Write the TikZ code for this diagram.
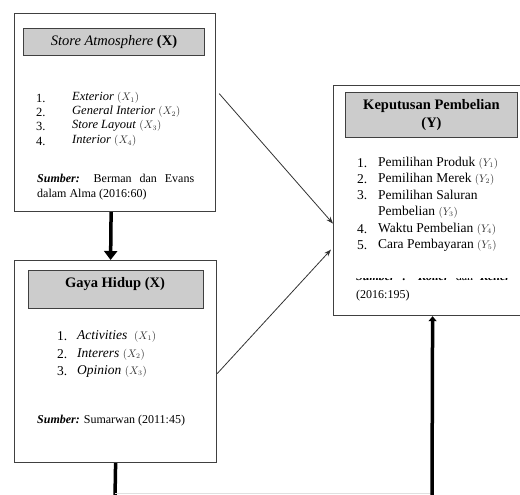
\documentclass[tikz,border=0pt]{standalone}
\usepackage{fontspec}
\setmainfont{Liberation Serif}
\usetikzlibrary{arrows.meta}

\newcommand{\var}[1]{{\color{black!80}\fontsize{10.5}{11}\selectfont$(#1)$}}

\begin{document}
\begin{tikzpicture}[x=1pt,y=-1pt,
    kotak/.style={draw=black!75,line width=1.2pt,anchor=north west,inner sep=0pt},
    judul/.style={draw=black!75,line width=1pt,fill=black!20,anchor=north west,inner sep=0pt,
      align=center,font=\fontsize{14.5}{18}\selectfont},
    isi/.style={anchor=west,inner sep=0pt,font=\fontsize{12.5}{14}\selectfont},
    isibesar/.style={anchor=west,inner sep=0pt,font=\fontsize{13.5}{15}\selectfont},
    tebal/.style={line width=3.5pt},
    panah/.style={-{Stealth[length=7pt,width=5pt]},line width=0.8pt,black!80}]
\useasboundingbox (0,0) rectangle (520,495);

% kotak store atmosphere
\node[kotak,minimum width=201pt,minimum height=198pt] (atmo) at (14,13) {};
\node[judul,minimum width=181pt,minimum height=27pt] (atmoJ) at (23,28) {\textit{Store Atmosphere} \textbf{(X)}};
\node[isi] (a1n) at (36,98) {1.};  \node[isi] (a1) at (72,98) {\textit{Exterior} \var{X_1}};
\node[isi] (a2n) at (36,112) {2.}; \node[isi] (a2) at (72,112) {\textit{General Interior} \var{X_2}};
\node[isi] (a3n) at (36,126) {3.}; \node[isi] (a3) at (72,126) {\textit{Store Layout} \var{X_3}};
\node[isi] (a4n) at (36,141) {4.}; \node[isi] (a4) at (72,141) {\textit{Interior} \var{X_4}};
\node[isi,anchor=north west,text width=157pt,align=justify,font=\fontsize{12}{15}\selectfont] (aSum) at (37,174)
  {\textbf{\textit{Sumber:}} Berman dan Evans dalam Alma (2016:60)};

% kotak gaya hidup
\node[kotak,minimum width=202pt,minimum height=202pt] (gaya) at (14,260) {};
\node[judul,minimum width=175pt,minimum height=38pt] (gayaJ) at (28,270) {};
\node[judul,anchor=center,draw=none,fill=none] (gayaT) at (115,284) {\textbf{Gaya Hidup (X)}};
\node[isibesar] (g1n) at (57,336) {1.}; \node[isibesar] (g1) at (77,336) {\textit{Activities}\ \ \var{X_1}};
\node[isibesar] (g2n) at (57,354) {2.}; \node[isibesar] (g2) at (77,354) {\textit{Interers} \var{X_2}};
\node[isibesar] (g3n) at (57,371) {3.}; \node[isibesar] (g3) at (77,371) {\textit{Opinion} \var{X_3}};
\node[isi,font=\fontsize{12}{14}\selectfont] (gSum) at (37,421) {\textbf{\textit{Sumber:}} Sumarwan (2011:45)};

% kotak keputusan pembelian
\node[kotak,minimum width=190pt,minimum height=230pt] (keput) at (333,85) {};
\node[judul,minimum width=172pt,minimum height=45pt] (keputJ) at (345,92) {\textbf{Keputusan Pembelian}\\\textbf{(Y)}};
\node[isibesar] (k1n) at (357,163) {1.}; \node[isibesar] (k1) at (378,163) {Pemilihan Produk \var{Y_1}};
\node[isibesar] (k2n) at (357,179) {2.}; \node[isibesar] (k2) at (378,179) {Pemilihan Merek \var{Y_2}};
\node[isibesar] (k3n) at (357,195) {3.}; \node[isibesar] (k3) at (378,195) {Pemilihan Saluran};
\node[isibesar] (k3b) at (378,212) {Pembelian \var{Y_3}};
\node[isibesar] (k4n) at (357,229) {4.}; \node[isibesar] (k4) at (378,229) {Waktu Pembelian \var{Y_4}};
\node[isibesar] (k5n) at (357,245) {5.}; \node[isibesar] (k5) at (378,245) {Cara Pembayaran \var{Y_5}};
\begin{scope}
  \clip (340,278) rectangle (518,292);
  \node[isi,font=\fontsize{12}{14}\selectfont] (kSum) at (356,276)
    {\makebox[154pt][s]{\textbf{\textit{Sumber}} \textbf{:} \textbf{\textit{Koller}} dan \textbf{\textit{Keller}}}};
\end{scope}
\node[isi,font=\fontsize{12}{14}\selectfont] (kTh) at (356,296) {(2016:195)};

% garis penghubung
\draw[tebal,-{Triangle[length=9pt,width=13pt]}] ([xshift=-4pt]atmo.south) -- ([xshift=-5pt]gaya.north);
\draw[panah] ([xshift=3pt,yshift=19pt]atmo.east) -- ([yshift=-23pt]keput.west);
\draw[panah] ([yshift=-12pt]gaya.east) -- ([xshift=-2pt,yshift=-49pt]keput.west);
\coordinate (bawahKiri) at (115,498);
\coordinate (bawahKanan) at (432,498);
\coordinate (garisKiri) at (115,493);
\coordinate (garisKanan) at (432,493);
\draw[tebal] (gaya.south) -- (bawahKiri);
\draw[black!12,line width=1pt] (garisKiri) -- (garisKanan);
\draw[tebal,-{Triangle[length=5pt,width=8pt]}] (bawahKanan) -- ([xshift=4pt]keput.south);
\end{tikzpicture}
\end{document}
